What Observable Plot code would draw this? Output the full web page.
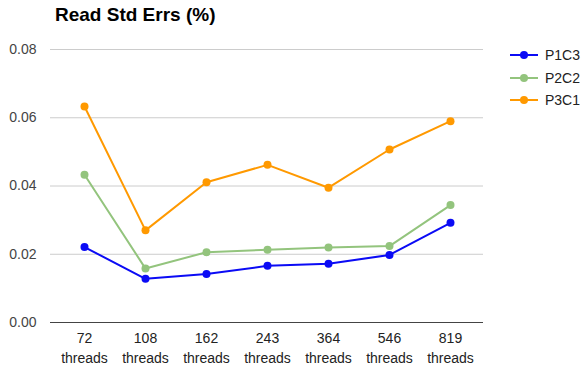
<!DOCTYPE html>
<html>
<head>
<meta charset="utf-8">
<script src="https://cdn.jsdelivr.net/npm/d3@7"></script>
<script src="https://cdn.jsdelivr.net/npm/@observablehq/plot@0.6"></script>
<style>
  html, body { margin: 0; padding: 0; background: #fff; }
  #wrap { position: relative; width: 587px; height: 372px; font-family: Arial, "Liberation Sans", sans-serif; }
  #title { position: absolute; left: 55px; top: 4px; font-size: 19px; font-weight: bold; color: #000; white-space: nowrap; }
  #legend { position: absolute; left: 509px; top: 44px; font-size: 14px; color: #222; }
  .item { display: flex; align-items: center; height: 22.5px; }
  .item svg { margin-right: 6px; }
</style>
</head>
<body>
<div id="wrap">
  <div id="chart"></div>
  <div id="title">Read Std Errs (%)</div>
  <div id="legend"></div>
</div>
<script>
const threads = ["72", "108", "162", "243", "364", "546", "819"];
const seriesNames = ["P1C3", "P2C2", "P3C1"];
const seriesColors = ["#0b0bf5", "#93c47d", "#ff9900"];
const P1C3 = [0.0221, 0.0128, 0.0142, 0.0166, 0.0172, 0.0198, 0.0292];
const P2C2 = [0.0433, 0.0158, 0.0206, 0.0213, 0.0220, 0.0224, 0.0344];
const P3C1 = [0.0633, 0.0270, 0.0411, 0.0462, 0.0395, 0.0507, 0.0590];
const yTicks = [0, 0.02, 0.04, 0.06, 0.08];

const values = [P1C3, P2C2, P3C1];
const data = [];
seriesNames.forEach((s, i) => threads.forEach((t, j) => data.push({series: s, threads: t, value: values[i][j]})));

const plot = Plot.plot({
  width: 587,
  height: 372,
  marginLeft: 50,
  marginRight: 104,
  marginTop: 49,
  marginBottom: 50,
  style: {fontFamily: 'Arial, "Liberation Sans", sans-serif', fontSize: "14px", color: "#444", background: "#fff"},
  x: {type: "point", domain: threads, padding: 0.5},
  y: {domain: [0, 0.08]},
  color: {domain: seriesNames, range: seriesColors},
  marks: [
    Plot.gridY(yTicks.filter(d => d > 0), {stroke: "#cccccc", strokeOpacity: 1, strokeWidth: 1}),
    Plot.ruleY([0], {stroke: "#444", strokeWidth: 1}),
    Plot.axisY({ticks: yTicks, tickFormat: d3.format(".2f"), tickSize: 0, tickPadding: 14, fill: "#444", label: null}),
    Plot.axisX({tickSize: 0, tickPadding: 7, tickFormat: d => d + "\nthreads", lineHeight: 1.4, fill: "#222", label: null}),
    Plot.line(data, {x: "threads", y: "value", stroke: "series", z: "series", strokeWidth: 2}),
    Plot.dot(data, {x: "threads", y: "value", fill: "series", r: 4})
  ]
});
document.getElementById("chart").appendChild(plot);

const legend = document.getElementById("legend");
seriesNames.forEach((s, i) => {
  const row = document.createElement("div");
  row.className = "item";
  row.innerHTML = `<svg width="30" height="10"><line x1="1" x2="29" y1="5" y2="5" stroke="${seriesColors[i]}" stroke-width="2"/><circle cx="15" cy="5" r="4" fill="${seriesColors[i]}"/></svg><span>${s}</span>`;
  legend.appendChild(row);
});
</script>
</body>
</html>
